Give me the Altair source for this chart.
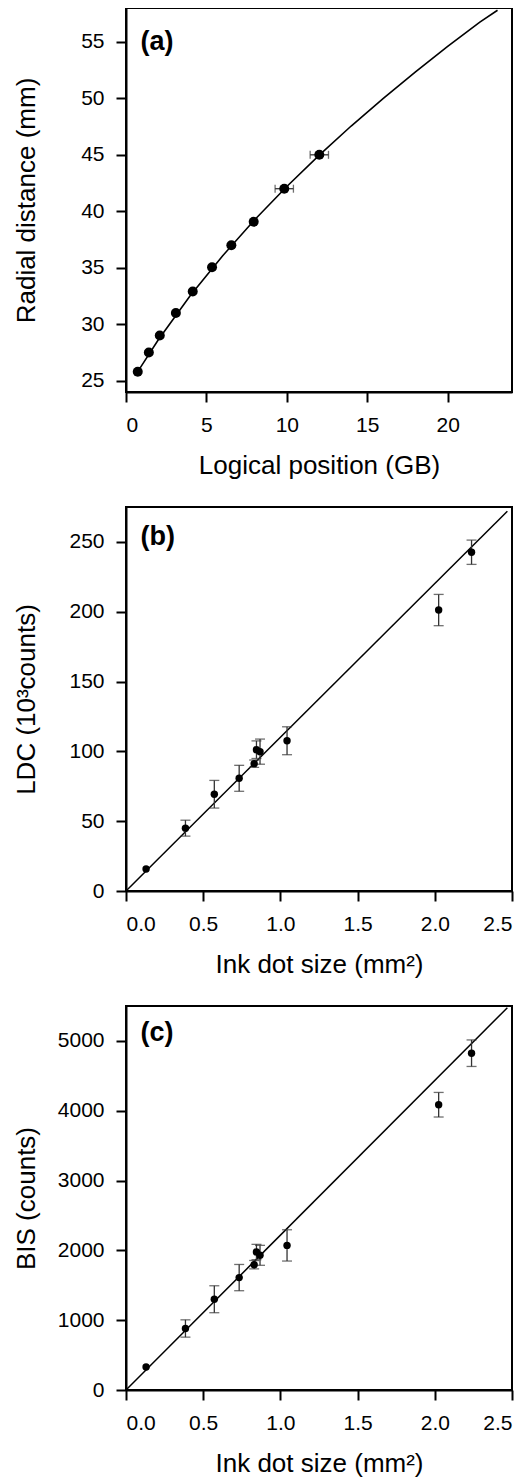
import altair as alt
import pandas as pd

# ---------------- data ----------------
# Panel (a)
a_x = [0.73, 1.42, 2.10, 3.10, 4.15, 5.35, 6.55, 7.94, 9.84, 12.02]
a_y = [25.8, 27.5, 29.0, 31.0, 32.9, 35.05, 37.0, 39.07, 42.0, 45.0]
a_xerr = [0, 0, 0, 0, 0, 0, 0, 0, 0.57, 0.57]
a_curve_x = [0.73, 2, 4, 6, 8, 10, 12, 14, 16, 18, 20, 22, 23.1]
a_curve_y = [25.8, 28.6, 32.55, 36.05, 39.25, 42.2, 44.95, 47.55, 50.0, 52.35, 54.6, 56.75, 57.8]

# Panels (b) and (c)
dot_size = [0.13, 0.385, 0.572, 0.733, 0.830, 0.845, 0.868, 1.043, 2.025, 2.238]
ldc = [15.7, 45.0, 69.3, 80.7, 91.2, 101.2, 99.8, 107.6, 201.2, 242.6]
ldc_err = [0, 5.7, 9.9, 9.3, 2.6, 6.3, 9.0, 10.0, 11.2, 8.7]
bis = [329, 881, 1300, 1610, 1795, 1976, 1929, 2071, 4086, 4824]
bis_err = [0, 124, 193, 188, 60, 110, 143, 224, 176, 190]
fit_x = [0, 2.47]
ldc_fit = [0, 272]
bis_fit = [0, 5476]

panel_labels = ["(a)", "(b)", "(c)"]
a_xticks = [0, 5, 10, 15, 20]
a_yticks = [25, 30, 35, 40, 45, 50, 55]
dot_ticks = [0.0, 0.5, 1.0, 1.5, 2.0, 2.5]
ldc_ticks = [0, 50, 100, 150, 200, 250]
bis_ticks = [0, 1000, 2000, 3000, 4000, 5000]

# ---------------- style ----------------
FONT = "Liberation Sans"
W, H = 386, 384
ERR_COLOR = "#333333"
label_y = [42, 38, 35]


def label_layer(i):
    df = pd.DataFrame({"lab": [panel_labels[i]]})
    return alt.Chart(df).mark_text(
        align="left", baseline="alphabetic", font=FONT, fontSize=27,
        fontWeight="bold", color="black"
    ).encode(x=alt.value(14.5), y=alt.value(label_y[i]), text="lab:N")


# ---------------- panel (a) ----------------
df_a = pd.DataFrame({"x": a_x, "y": a_y, "err": a_xerr})
df_a["lo"] = df_a["x"] - df_a["err"]
df_a["hi"] = df_a["x"] + df_a["err"]
df_a_err = df_a[df_a["err"] > 0]
df_curve = pd.DataFrame({"x": a_curve_x, "y": a_curve_y})

xa = alt.X("x:Q", scale=alt.Scale(domain=[0, 24], nice=False, zero=False),
           axis=alt.Axis(title="Logical position (GB)", values=a_xticks))
ya = alt.Y("y:Q", scale=alt.Scale(domain=[24, 58], nice=False, zero=False),
           axis=alt.Axis(title="Radial distance (mm)", values=a_yticks))

curve_a = alt.Chart(df_curve).mark_line(color="black", strokeWidth=1.6).encode(x=xa, y=ya)
err_a = alt.Chart(df_a_err).mark_rule(color=ERR_COLOR, strokeWidth=1.3).encode(
    x="lo:Q", x2="hi:Q", y="y:Q")
cap_lo_a = alt.Chart(df_a_err).mark_tick(orient="vertical", size=8, thickness=1.3,
                                         color=ERR_COLOR).encode(x="lo:Q", y="y:Q")
cap_hi_a = alt.Chart(df_a_err).mark_tick(orient="vertical", size=8, thickness=1.3,
                                         color=ERR_COLOR).encode(x="hi:Q", y="y:Q")
pts_a = alt.Chart(df_a).mark_circle(size=100, color="black", opacity=1).encode(x=xa, y=ya)

panel_a = alt.layer(curve_a, err_a, cap_lo_a, cap_hi_a, pts_a, label_layer(0)).properties(
    width=W, height=H)


# ---------------- panels (b), (c) ----------------
def scatter_panel(i, yvals, yerr, yfit, ydomain, yticks, ytitle):
    df = pd.DataFrame({"x": dot_size, "y": yvals, "err": yerr})
    df["lo"] = df["y"] - df["err"]
    df["hi"] = df["y"] + df["err"]
    dfe = df[df["err"] > 0]
    dff = pd.DataFrame({"x": fit_x, "y": yfit})
    xs = alt.X("x:Q", scale=alt.Scale(domain=[0, 2.5], nice=False, zero=False),
               axis=alt.Axis(title="Ink dot size (mm²)", values=dot_ticks, format=".1f"))
    ys = alt.Y("y:Q", scale=alt.Scale(domain=ydomain, nice=False, zero=False),
               axis=alt.Axis(title=ytitle, values=yticks, format="d"))
    fit = alt.Chart(dff).mark_line(color="black", strokeWidth=1.5).encode(x=xs, y=ys)
    err = alt.Chart(dfe).mark_rule(color=ERR_COLOR, strokeWidth=1.3).encode(
        x="x:Q", y="lo:Q", y2="hi:Q")
    cap_lo = alt.Chart(dfe).mark_tick(orient="horizontal", size=10, thickness=1.3,
                                      color=ERR_COLOR).encode(x="x:Q", y="lo:Q")
    cap_hi = alt.Chart(dfe).mark_tick(orient="horizontal", size=10, thickness=1.3,
                                      color=ERR_COLOR).encode(x="x:Q", y="hi:Q")
    pts = alt.Chart(df).mark_circle(size=55, color="black", opacity=1).encode(x=xs, y=ys)
    return alt.layer(fit, err, cap_lo, cap_hi, pts, label_layer(i)).properties(
        width=W, height=H)


panel_b = scatter_panel(1, ldc, ldc_err, ldc_fit, [0, 275], ldc_ticks, "LDC (10³counts)")
panel_c = scatter_panel(2, bis, bis_err, bis_fit, [0, 5500], bis_ticks, "BIS (counts)")

chart = alt.vconcat(panel_a, panel_b, panel_c, spacing=115, bounds="flush").properties(
    padding={"left": 4, "top": -2, "right": 4, "bottom": 0}
).configure_view(
    stroke="black", strokeWidth=2
).configure_axis(
    grid=False, domainColor="black", domainWidth=2, tickColor="black", tickWidth=2,
    tickSize=10, labelFont=FONT, labelFontSize=21, labelColor="black", labelPadding=12,
    titleFont=FONT, titleFontSize=26, titleFontWeight="normal", titleColor="black"
).configure_axisBottom(
    titleY=81, titleBaseline="alphabetic"
).configure_axisLeft(
    titleX=-92, titleBaseline="alphabetic"
)

chart.save("out.html", embed_options={"renderer": "svg", "actions": False})
